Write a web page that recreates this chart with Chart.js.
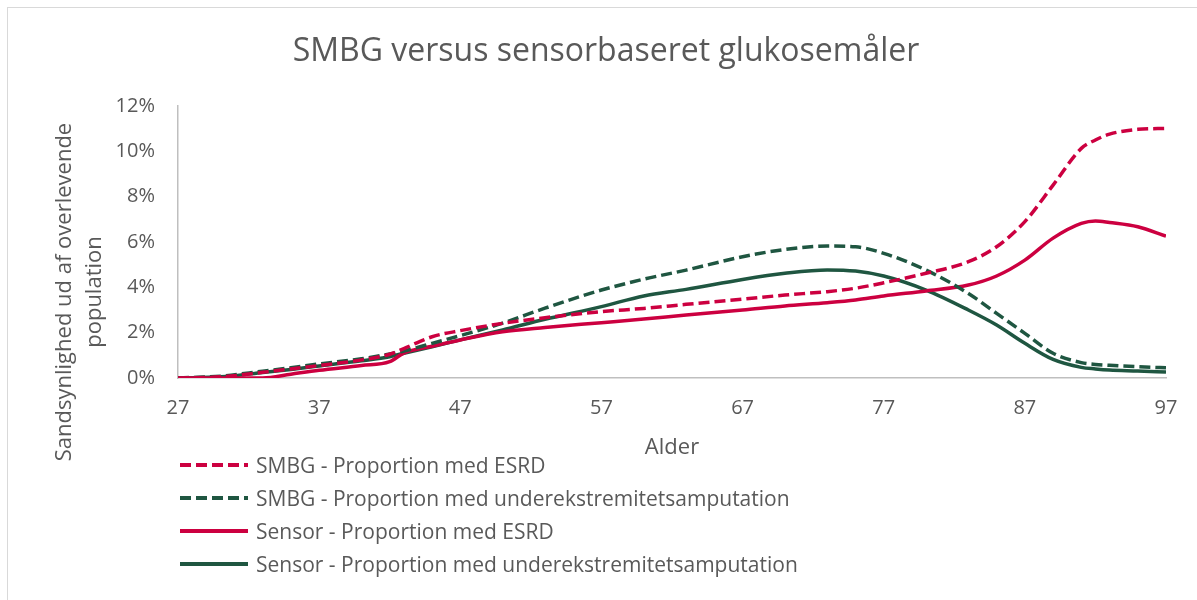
<!DOCTYPE html>
<html>
<head>
<meta charset="utf-8">
<script src="https://cdn.jsdelivr.net/npm/chart.js@4.4.0/dist/chart.umd.min.js"></script>
<style>
  body { margin: 0; background: #fff; font-family: "Open Sans", sans-serif; }
  #wrap { position: relative; width: 1197px; height: 600px; overflow: hidden; }
  #frame { position: absolute; left: 7px; top: 7px; width: 1300px; height: 700px; border: 1px solid #d9d9d9; }
  #legend { position: absolute; left: 180px; top: 448px; }
  .row { display: flex; align-items: center; height: 33px; color: #595959; font-size: 21px; }
  .row svg { margin-right: 8px; }
  #ytitle { position: absolute; left: 77px; top: 292px; transform: translate(-50%, -50%) rotate(-90deg);
            white-space: nowrap; text-align: center; color: #595959; font-size: 22px; line-height: 30px; }
</style>
</head>
<body>
<div id="wrap">
  <div id="frame"></div>
  <canvas id="chart" width="1197" height="600"></canvas>
  <div id="ytitle">Sandsynlighed ud af overlevende<br>population</div>
  <div id="legend"></div>
</div>
<script>
var ages = [27, 30, 33, 35, 37, 40, 42, 43, 45, 47, 50, 53, 57, 60, 63, 67, 70, 73, 75, 77, 80, 83, 85, 87, 89, 91, 92, 93, 95, 97];
var smbgEsrd = [0, 0.05, 0.25, 0.4, 0.55, 0.8, 1.05, 1.3, 1.82, 2.09, 2.41, 2.66, 2.93, 3.07, 3.25, 3.48, 3.66, 3.81, 3.96, 4.2, 4.62, 5.13, 5.79, 6.9, 8.51, 10.13, 10.5, 10.76, 10.97, 11.01];
var smbgAmp = [0, 0.08, 0.3, 0.45, 0.62, 0.85, 1.06, 1.19, 1.53, 1.87, 2.42, 3.08, 3.88, 4.36, 4.76, 5.35, 5.67, 5.82, 5.79, 5.5, 4.76, 3.73, 2.85, 1.97, 1.09, 0.68, 0.6, 0.56, 0.5, 0.45];
var sensorEsrd = [0, 0, 0, 0.17, 0.34, 0.55, 0.72, 1.1, 1.4, 1.68, 2.04, 2.23, 2.44, 2.6, 2.78, 3.0, 3.18, 3.32, 3.44, 3.62, 3.84, 4.1, 4.5, 5.2, 6.17, 6.82, 6.93, 6.86, 6.67, 6.26];
var sensorAmp = [0, 0.05, 0.24, 0.38, 0.53, 0.76, 0.94, 1.09, 1.38, 1.68, 2.12, 2.59, 3.15, 3.62, 3.91, 4.35, 4.62, 4.77, 4.72, 4.5, 3.88, 3.0, 2.34, 1.53, 0.82, 0.47, 0.4, 0.35, 0.31, 0.26];
var xTicks = [27, 37, 47, 57, 67, 77, 87, 97];
var seriesNames = [
    "SMBG - Proportion med ESRD",
    "SMBG - Proportion med underekstremitetsamputation",
    "Sensor - Proportion med ESRD",
    "Sensor - Proportion med underekstremitetsamputation"
];

var red = "#cc0040";
var green = "#1f5641";

function pts(values) {
    return ages.map(function (a, i) { return { x: a, y: values[i] }; });
}

function line(label, values, color, dashed) {
    return {
        label: label,
        data: pts(values),
        borderColor: color,
        backgroundColor: color,
        borderWidth: 3.5,
        borderDash: dashed ? [11, 5] : [],
        pointRadius: 0,
        cubicInterpolationMode: "monotone",
        fill: false
    };
}

var chart = new Chart(document.getElementById("chart"), {
    type: "line",
    data: {
        datasets: [
            line(seriesNames[0], smbgEsrd, red, true),
            line(seriesNames[1], smbgAmp, green, true),
            line(seriesNames[2], sensorEsrd, red, false),
            line(seriesNames[3], sensorAmp, green, false)
        ]
    },
    options: {
        responsive: false,
        animation: false,
        layout: { padding: { left: 46, right: 31, top: 0, bottom: 135 } },
        scales: {
            x: {
                type: "linear",
                min: 27,
                max: 97,
                afterBuildTicks: function (scale) {
                    scale.ticks = xTicks.map(function (v) { return { value: v }; });
                },
                afterFit: function (scale) { scale.height = 87; },
                grid: { display: false, drawTicks: false },
                border: { color: "#bfbfbf", width: 1.5 },
                ticks: { color: "#595959", font: { family: "Open Sans", size: 20 }, padding: 18, maxRotation: 0 },
                title: { display: true, text: "Alder", color: "#595959", font: { family: "Open Sans", size: 22 }, padding: { top: 14, bottom: 4 } }
            },
            y: {
                min: 0,
                max: 12,
                grid: { display: false, drawTicks: false },
                border: { color: "#bfbfbf", width: 1.5 },
                afterFit: function (scale) { scale.width = 132; },
                ticks: {
                    stepSize: 2,
                    color: "#595959",
                    font: { family: "Open Sans", size: 20 },
                    padding: 23,
                    callback: function (v) { return v + "%"; }
                }
            }
        },
        plugins: {
            legend: { display: false },
            tooltip: { enabled: false },
            title: {
                display: true,
                text: "SMBG versus sensorbaseret glukosemåler",
                color: "#595959",
                font: { family: "Open Sans", size: 32, weight: "normal" },
                padding: { top: 33, bottom: 34.6 }
            }
        }
    }
});

// html legend built from the datasets
var legend = document.getElementById("legend");
chart.data.datasets.forEach(function (ds) {
    var row = document.createElement("div");
    row.className = "row";
    var dash = ds.borderDash.length ? ' stroke-dasharray="11 5"' : "";
    row.innerHTML = '<svg width="68" height="10"><line x1="0" y1="5" x2="68" y2="5" stroke="' + ds.borderColor +
        '" stroke-width="4"' + dash + '/></svg><span>' + ds.label + '</span>';
    legend.appendChild(row);
});
</script>
</body>
</html>
